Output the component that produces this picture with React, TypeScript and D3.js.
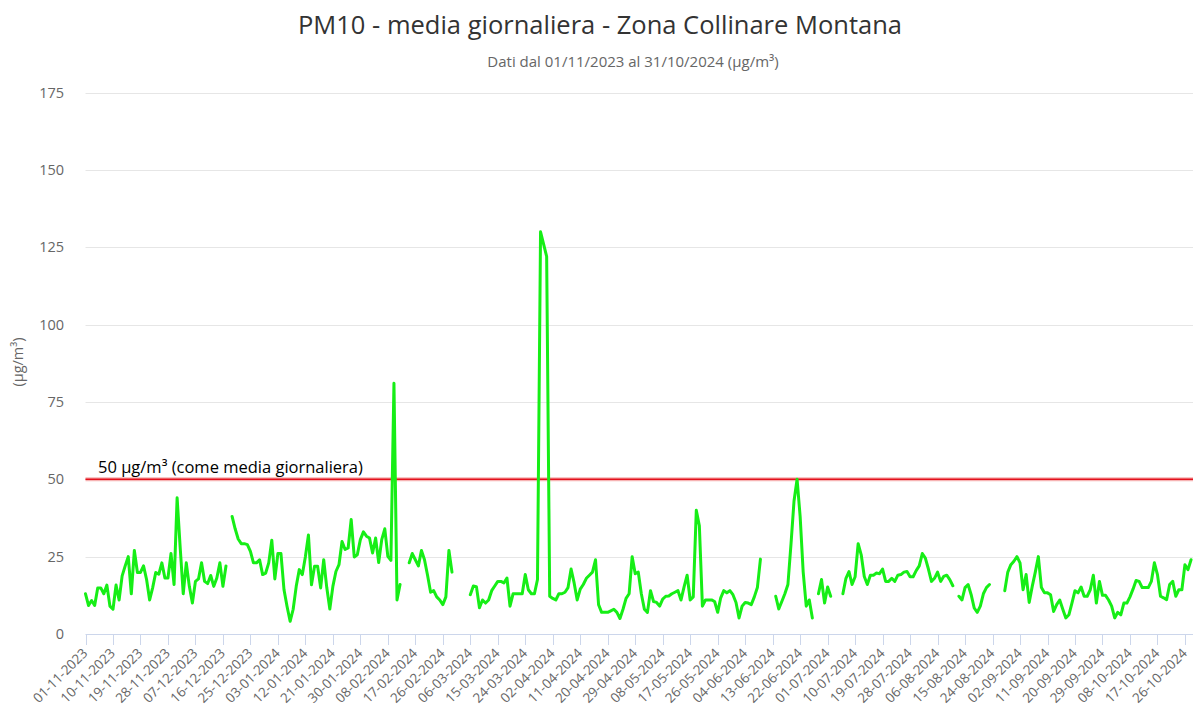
import React from "react";
import * as d3 from "d3";

// ---------- DATA ----------
const startDate = new Date(2023, 10, 1);
const endDate = new Date(2024, 10, 1);
const categories: Date[] = d3.timeDay.range(startDate, endDate); // 366 days
const tickEvery = 9;

const novValues = [13, 9.2, 10.8, 9.2, 14.9, 14.9, 13, 15.8, 9, 8, 15.8, 11, 18.8, 22, 25, 13, 27, 19.9, 19.9, 22, 17.6, 11, 15, 19.9, 19.3, 23, 18.1, 18.1, 26, 16];
const decValues = [44, 28, 13, 23, 15.4, 10, 17, 17.8, 23, 17, 16.3, 18.9, 15.4, 18.1, 23, 15.4, 22, null, 38, 34, 30.7, 29.2, 29.2, 28.9, 26.7, 23, 23, 24, 19.2, 19.7, 23];
const janValues = [30.3, 17.8, 26, 26, 14.3, 8.9, 4.1, 8, 15.4, 20.8, 19.2, 25, 32, 15.9, 21.9, 21.9, 14.9, 24, 15, 8.1, 15.4, 20.2, 22.4, 29.9, 27.3, 27.8, 37, 24.9, 25.6, 30.5, 33];
const febValues = [31.6, 31, 26.2, 31, 23.1, 30.5, 34, 25.1, 23.8, 81, 11, 16, null, null, 23, 26, 24, 22, 27, 24, 19, 13.5, 14, 12, 11, 9.5, 12, 27, 20];
const marValues = [null, null, null, null, null, 12.7, 15.5, 15.3, 8.5, 11, 10, 11, 14, 15.5, 17, 17, 16.5, 18.1, 9, 13, 13, 13, 13, 19.2, 14.3, 13, 13, 17.6, 130, 126, 122];
const aprValues = [12.2, 11.5, 11, 13, 13, 13.5, 15, 21, 16.5, 11, 14.5, 16, 18, 19, 20, 24, 9.5, 7, 7, 7, 7.5, 8, 7, 5, 8, 11.5, 13, 25, 19.5, 20];
const mayValues = [13, 8, 7, 14, 10.5, 10.2, 9, 11.3, 12.2, 12.3, 13, 13.5, 14, 11, 15.2, 19, 11, 12, 40, 35, 9, 11, 11, 11, 10.5, 7, 11.7, 14, 13.3, 14, 12.7];
const junValues = [10.2, 5.2, 9, 10.2, 10, 9.5, 12, 15, 24.2, null, null, null, null, 12.2, 8.1, 10.5, 13, 16, 29, 43, 50, 38, 20, 9, 11, 5.2, null, 13, 17.6, 10];
const julValues = [15.2, 12.2, null, null, null, 13, 18, 20.2, 16, 18.5, 29.2, 25.6, 18.6, 16, 19, 19, 19.7, 19.5, 21, 17, 17, 18, 17, 19, 19.2, 20, 20.2, 18.5, 18.5, 20.5, 22];
const augValues = [26, 24.5, 21, 17, 18, 20, 17, 18.6, 19, 17.6, 15.6, null, 12.2, 11, 15, 16, 12.7, 8.4, 7, 9, 13, 15, 16, null, null, null, null, 14, 20, 22.4, 23.5];
const sepValues = [25, 23, 14.3, 19.2, 10.2, 15.4, 20, 25, 15, 13.3, 13.3, 12.7, 7.3, 9.5, 11, 8, 5.2, 6.2, 10, 14, 13.3, 15.2, 12.2, 12.2, 14.3, 19, 10, 17, 12.5, 12.5];
const octValues = [11, 9, 5.2, 7, 6.2, 10, 10, 12, 14.5, 17.3, 17, 15, 15, 15, 17, 23, 19.2, 12.2, 11.7, 11.1, 16, 17, 12.2, 14.3, 14.3, 22.4, 20.8, 24];

const values: (number | null)[] = [
  ...novValues, ...decValues, ...janValues, ...febValues, ...marValues, ...aprValues,
  ...mayValues, ...junValues, ...julValues, ...augValues, ...sepValues, ...octValues,
];

const yTicks = [0, 25, 50, 75, 100, 125, 150, 175];
const limitValue = 50;
const limitLabel = "50 µg/m³ (come media giornaliera)";
const titleText = "PM10 - media giornaliera - Zona Collinare Montana";
const subtitleText = "Dati dal 01/11/2023 al 31/10/2024 (µg/m³)";
const yAxisTitle = "(µg/m³)";

// ---------- LAYOUT ----------
const W = 1193;
const H = 720;
const FONT = "'Open Sans', 'Noto Sans', sans-serif";
const dayPx = 3.054;
const plotLeft = 85.5;

export default function App() {
  const n = categories.length;
  const x = d3.scaleLinear().domain([0, n - 1]).range([plotLeft, plotLeft + (n - 1) * dayPx]);
  const y = d3.scaleLinear().domain([0, 175]).range([634, 92.5]);
  const fmt = d3.timeFormat("%d-%m-%Y");

  const line = d3
    .line<number | null>()
    .defined((d) => d != null)
    .x((_, i) => x(i))
    .y((d) => y(d as number));

  const tickIdx = d3.range(0, n, tickEvery);

  return (
    <svg
      width={W}
      height={H}
      style={{ position: "absolute", left: 0, top: 0, background: "#fff" }}
      fontFamily={FONT}
    >
      <rect width={W} height={H} fill="#fff" />
      <text x={600} y={34} textAnchor="middle" fontSize={25.5} fill="#333">
        {titleText}
      </text>
      <text x={633} y={67} textAnchor="middle" fontSize={15} fill="#666">
        {subtitleText}
      </text>

      {yTicks.map((t) =>
        t === 0 ? null : (
          <line key={t} x1={plotLeft} x2={W} y1={Math.round(y(t)) + 0.5} y2={Math.round(y(t)) + 0.5} stroke="#e6e6e6" />
        )
      )}
      {yTicks.map((t) => (
        <text key={"l" + t} x={64} y={y(t) + 5} textAnchor="end" fontSize={14.5} fill="#666">
          {t}
        </text>
      ))}
      <text
        transform={`translate(23, ${362}) rotate(-90)`}
        textAnchor="middle"
        fontSize={14.5}
        fill="#666"
      >
        {yAxisTitle}
      </text>

      {/* x axis */}
      <line x1={plotLeft} x2={W} y1={634.5} y2={634.5} stroke="#ccd6eb" />
      {tickIdx.map((i) => (
        <line key={"t" + i} x1={Math.round(x(i)) + 0.5} x2={Math.round(x(i)) + 0.5} y1={634.5} y2={645} stroke="#ccd6eb" />
      ))}
      {tickIdx.map((i) => (
        <text
          key={"x" + i}
          transform={`translate(${x(i) + 3}, ${654}) rotate(-45)`}
          textAnchor="end"
          fontSize={13.5}
          fill="#666"
        >
          {fmt(categories[i])}
        </text>
      ))}

      {/* limit line */}
      <line x1={plotLeft} x2={W} y1={y(limitValue)} y2={y(limitValue)} stroke="#f6b3b3" strokeWidth={4} />
      <line x1={plotLeft} x2={W} y1={y(limitValue)} y2={y(limitValue)} stroke="#e3101c" strokeWidth={1.6} />
      <text x={98} y={y(limitValue) - 6} fontSize={16.5} fill="#000">
        {limitLabel}
      </text>

      <path d={line(values) || ""} fill="none" stroke="#16ee16" strokeWidth={3} strokeLinejoin="round" strokeLinecap="round" />
    </svg>
  );
}
